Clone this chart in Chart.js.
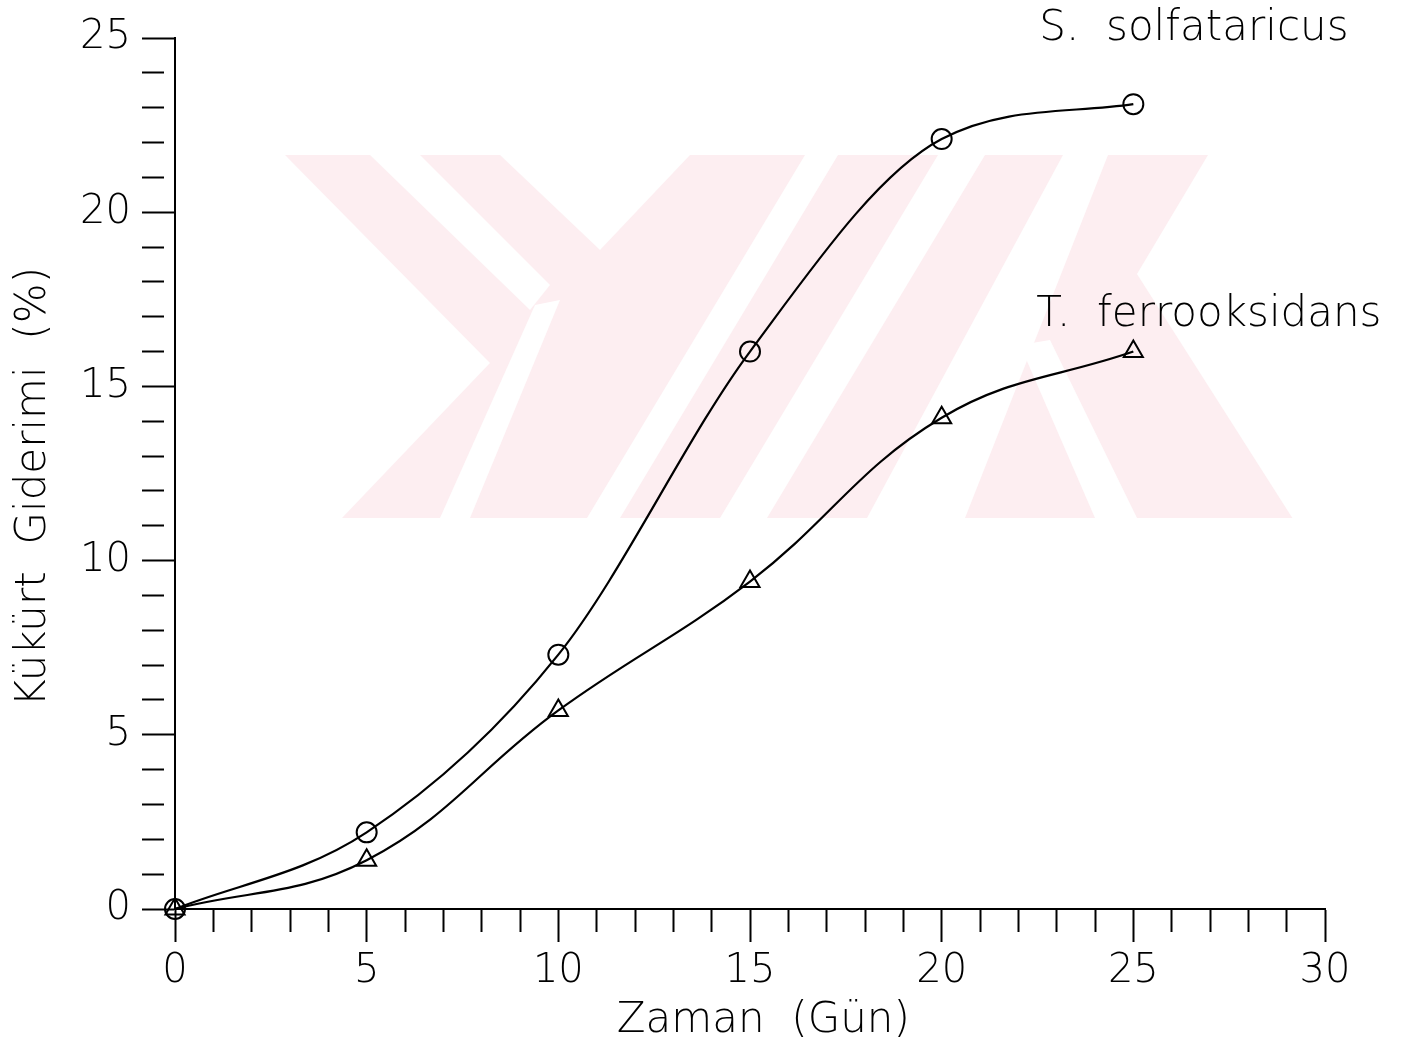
<!DOCTYPE html>
<html>
<head>
<meta charset="utf-8">
<script src="https://cdn.jsdelivr.net/npm/chart.js@4.4.0/dist/chart.umd.min.js"></script>
<style>
  html, body { margin: 0; padding: 0; background: #fff; }
  canvas { display: block; }
</style>
</head>
<body>
<canvas id="grafik" width="1406" height="1051"></canvas>
<script>
// Kükürt giderimi (%) - zaman (gün)
const gunler = [0, 5, 10, 15, 20, 25];
const solfataricus = [0, 2.2, 7.3, 16.0, 22.1, 23.1];
const ferrooksidans = [0, 1.4, 5.7, 9.4, 14.1, 16.0];
const seriAdlari = ["S.  solfataricus", "T.  ferrooksidans"];
const xEtiketleri = [0, 5, 10, 15, 20, 25, 30];
const yEtiketleri = [0, 5, 10, 15, 20, 25];

const yazi = { family: "'DejaVu Sans', sans-serif", size: 40, weight: "200" };
const baslikYazi = { family: "'DejaVu Sans', sans-serif", size: 42, weight: "200" };

function noktalar(ys) {
  return gunler.map((g, i) => ({ x: g, y: ys[i] }));
}

// arka plandaki soluk pembe filigran
const filigran = {
  id: "filigran",
  beforeDraw(chart) {
    const ctx = chart.ctx;
    ctx.save();
    ctx.fillStyle = "#fff";
    ctx.fillRect(0, 0, chart.width, chart.height);
    ctx.fillStyle = "#fdeef1";
    ctx.fillRect(285, 155, 1010, 363);
    ctx.fillStyle = "#fff";
    const beyaz = [
      [[285, 155], [285, 518], [342, 518], [490, 363]],
      [[500, 155], [690, 155], [600, 250]],
      [[370, 155], [420, 155], [550, 285], [530, 310]],
      [[440, 518], [470, 518], [560, 300], [535, 305]],
      [[587, 518], [620, 518], [838, 155], [805, 155]],
      [[720, 518], [767, 518], [985, 155], [938, 155]],
      [[1063, 155], [1108, 155], [965, 518], [867, 518]],
      [[1208, 155], [1296, 155], [1296, 519], [1293, 519], [1137, 274]],
      [[1020, 345], [1050, 340], [1137, 518], [1095, 518]]
    ];
    beyaz.forEach((p) => {
      ctx.beginPath();
      ctx.moveTo(p[0][0], p[0][1]);
      p.slice(1).forEach((q) => ctx.lineTo(q[0], q[1]));
      ctx.closePath();
      ctx.fill();
    });
    ctx.restore();
  }
};

// eğri sonlarındaki seri adları
const seriYazilari = {
  id: "seriYazilari",
  afterDraw(chart) {
    const ctx = chart.ctx;
    ctx.save();
    ctx.fillStyle = "#000";
    ctx.font = baslikYazi.weight + " " + baslikYazi.size + "px " + baslikYazi.family;
    ctx.textBaseline = "middle";
    ctx.textAlign = "left";
    const kaydir = [[-94, -75], [-97, -36]];
    chart.data.datasets.forEach((ds, i) => {
      const meta = chart.getDatasetMeta(i);
      const son = meta.data[meta.data.length - 1];
      ctx.fillText(seriAdlari[i], son.x + kaydir[i][0], son.y + kaydir[i][1]);
    });
    ctx.restore();
  }
};

function eksen(min, max, etiketler) {
  return {
    type: "linear",
    min: min,
    max: max,
    border: { color: "#000", width: 2 },
    grid: {
      drawOnChartArea: false,
      tickLength: 33,
      tickWidth: 2,
      tickColor: "#000",
      tickBorderDash: (c) => (c.tick && etiketler.indexOf(c.tick.value) < 0 ? [22, 200] : [])
    },
    ticks: {
      stepSize: 1,
      autoSkip: false,
      maxRotation: 0,
      color: "#000",
      font: yazi,
      callback: (v) => (etiketler.indexOf(v) >= 0 ? String(v) : "")
    }
  };
}

const xEkseni = eksen(0, 30, xEtiketleri);
xEkseni.afterFit = (s) => { s.height = 142; };
xEkseni.ticks.padding = 6;
xEkseni.title = { display: true, text: "  Zaman  (Gün)", color: "#000", font: baslikYazi, padding: { top: 0, bottom: 5 } };

const yEkseni = eksen(0, 25, yEtiketleri);
yEkseni.afterFit = (s) => { s.width = 175; };
yEkseni.ticks.padding = 11;
yEkseni.title = { display: true, text: "Kükürt  Giderimi  (%)  ", color: "#000", font: baslikYazi, padding: { top: 9, bottom: 0 } };

new Chart(document.getElementById("grafik"), {
  type: "line",
  data: {
    datasets: [
      {
        label: seriAdlari[0],
        data: noktalar(solfataricus),
        borderColor: "#000",
        borderWidth: 2.2,
        pointStyle: "circle",
        pointRadius: 10,
        pointBorderWidth: 2,
        pointBorderColor: "#000",
        pointBackgroundColor: "rgba(0,0,0,0)",
        cubicInterpolationMode: "monotone",
        clip: false
      },
      {
        label: seriAdlari[1],
        data: noktalar(ferrooksidans),
        borderColor: "#000",
        borderWidth: 2.2,
        pointStyle: "triangle",
        pointRadius: 11,
        pointBorderWidth: 2,
        pointBorderColor: "#000",
        pointBackgroundColor: "rgba(0,0,0,0)",
        tension: 0.4,
        clip: false
      }
    ]
  },
  options: {
    responsive: false,
    animation: false,
    layout: { padding: { top: 38, right: 81, left: 0, bottom: 0 } },
    plugins: { legend: { display: false }, tooltip: { enabled: false } },
    scales: { x: xEkseni, y: yEkseni }
  },
  plugins: [filigran, seriYazilari]
});
</script>
</body>
</html>
